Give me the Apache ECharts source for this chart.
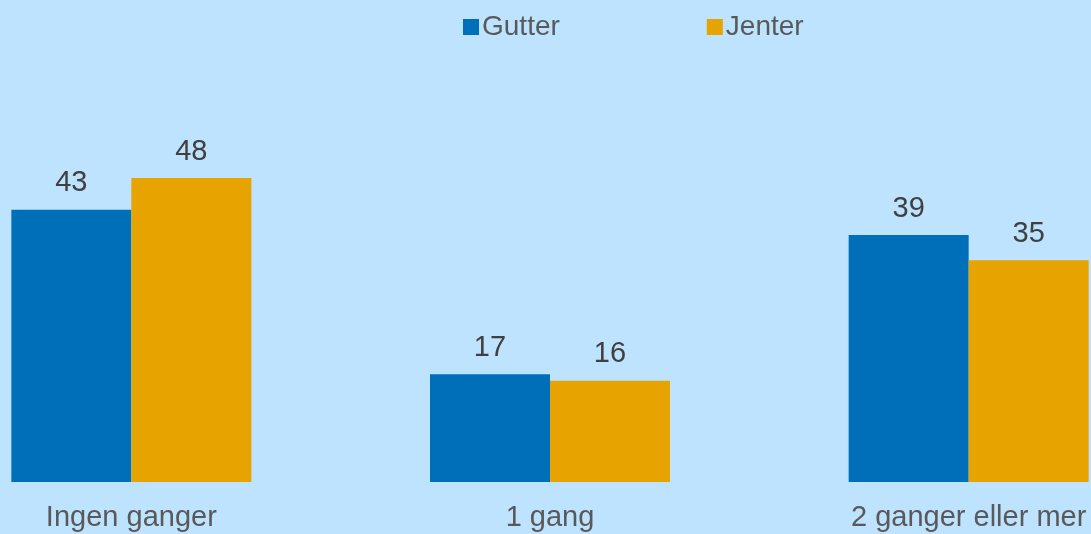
<!DOCTYPE html>
<html>
<head>
<meta charset="utf-8">
<script src="https://cdn.jsdelivr.net/npm/echarts@6/dist/echarts.min.js"></script>
<style>
  html, body { margin: 0; padding: 0; background: #BEE3FE; }
  #chart { width: 1091px; height: 534px; }
</style>
</head>
<body>
<div id="chart"></div>
<script>
// kategorier og verdier (prosent)
const categories = ['Ingen ganger', '1 gang', '2 ganger eller mer']
const gutter = [43, 17, 39]
const jenter = [48, 16, 35]

const chart = echarts.init(document.getElementById('chart'))

const labelStyle = {
  show: true,
  position: 'top',
  distance: 12,
  color: '#404040',
  fontSize: 29,
  fontFamily: 'Liberation Sans, Arial, sans-serif'
}

chart.setOption({
  backgroundColor: '#BEE3FE',
  animation: false,
  legend: {
    left: 458,
    top: 8,
    itemWidth: 16,
    itemHeight: 16,
    itemGap: 147,
    icon: 'rect',
    textStyle: {
      color: '#595959',
      fontSize: 28,
      fontFamily: 'Liberation Sans, Arial, sans-serif',
      padding: [0, 0, 0, -2]
    },
    data: ['Gutter', 'Jenter']
  },
  grid: {
    left: -78,
    right: -87,
    top: 102,
    bottom: 52,
    containLabel: false,
    outerBoundsMode: 'none'
  },
  xAxis: {
    type: 'category',
    data: categories,
    axisLine: { show: false },
    axisTick: { show: false },
    axisLabel: {
      color: '#595959',
      fontSize: 29,
      margin: 21,
      interval: 0,
      hideOverlap: false,
      fontFamily: 'Liberation Sans, Arial, sans-serif'
    }
  },
  yAxis: {
    type: 'value',
    min: 0,
    max: 60,
    show: false,
    splitLine: { show: false }
  },
  series: [
    {
      name: 'Gutter',
      type: 'bar',
      data: gutter,
      barWidth: 120,
      barGap: '0%',
      itemStyle: { color: '#006FBA' },
      label: labelStyle
    },
    {
      name: 'Jenter',
      type: 'bar',
      data: jenter,
      barWidth: 120,
      itemStyle: { color: '#E7A300' },
      label: labelStyle
    }
  ]
})
</script>
</body>
</html>
